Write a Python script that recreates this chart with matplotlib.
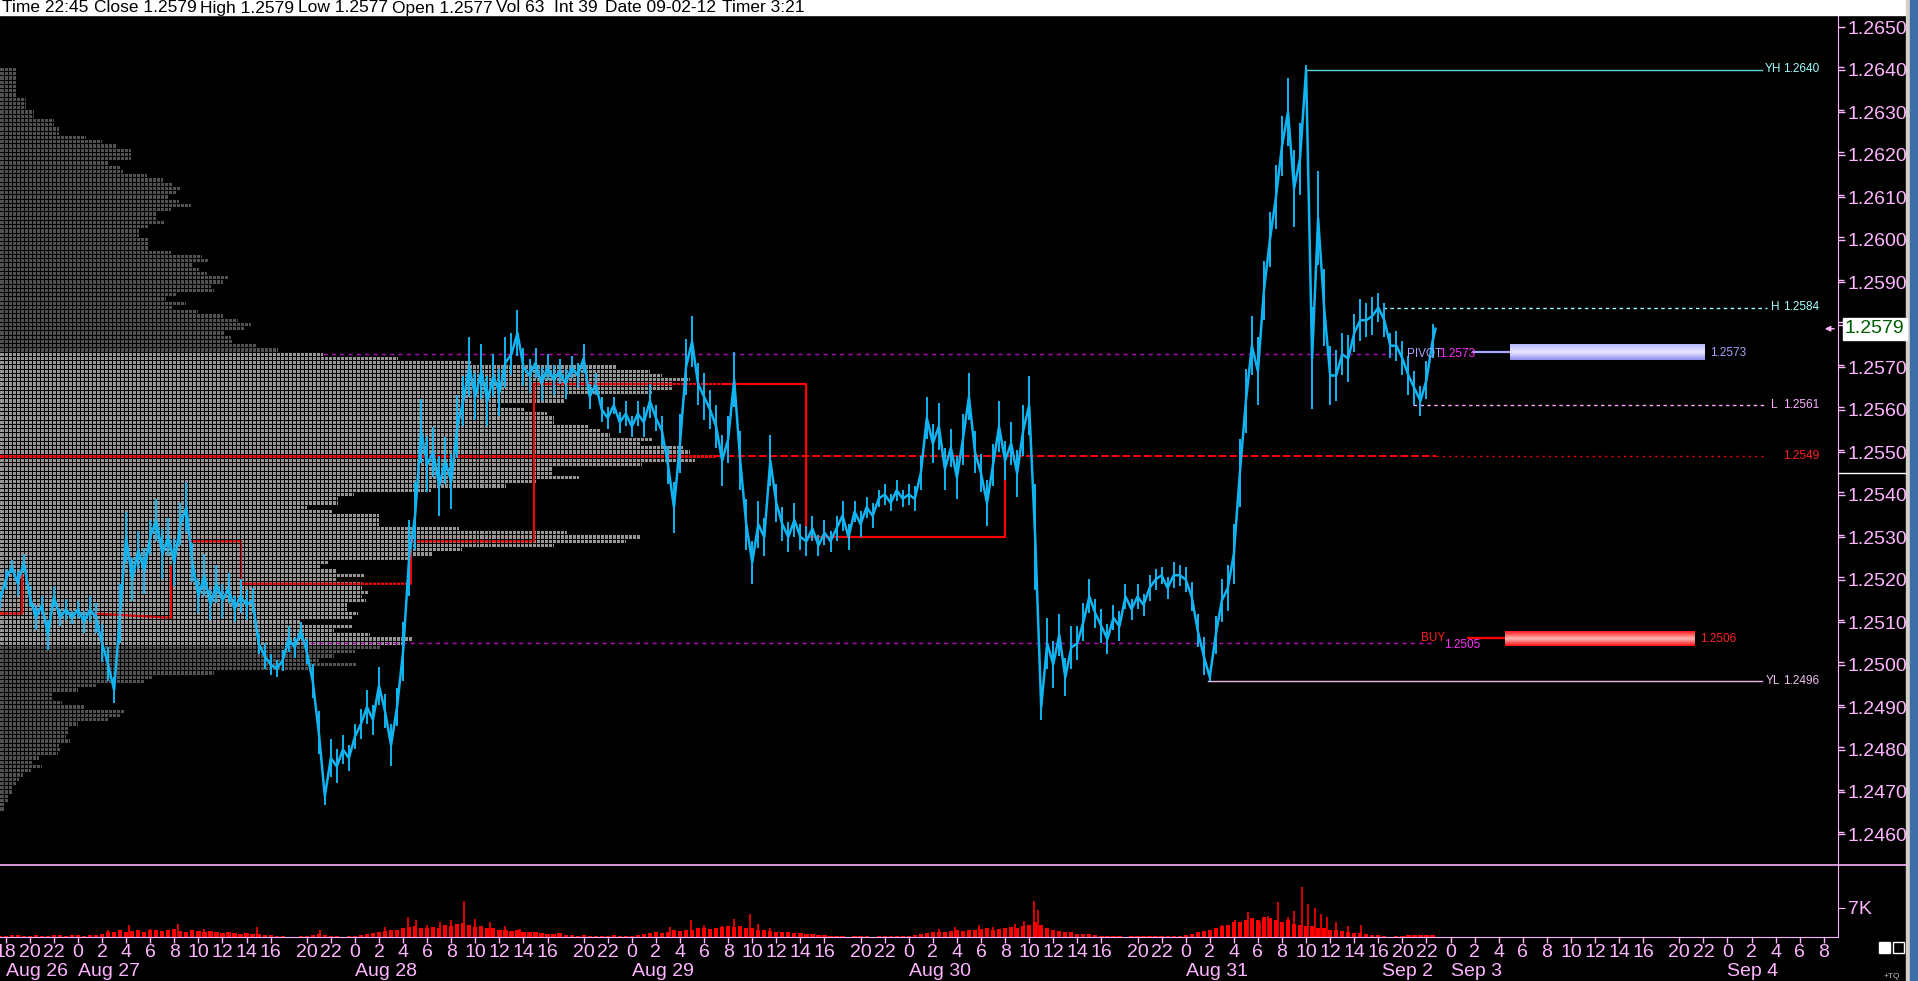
import numpy as np
import matplotlib
matplotlib.use("Agg")
import matplotlib.pyplot as plt
from matplotlib.colors import LinearSegmentedColormap
from matplotlib.patches import Rectangle
from matplotlib.lines import Line2D
from matplotlib.transforms import blended_transform_factory

plt.rcParams['font.family'] = ['Liberation Sans Narrow', 'Liberation Sans', 'DejaVu Sans']

W, H = 1918, 981
PX_H = 12.04     # screen pixels per session hour
X0_PX = 78       # pixel column of Aug 27 00:00

# ---------------- data ----------------
# time axis = session hours from Aug 27 00:00 (17:00-18:00 break skipped, 23 h per day)
t_first, t_step = -6.5, 0.5

# half-hour closes
price = [
    # Aug 26 evening
    1.2515, 1.2520, 1.2523, 1.2519, 1.2524, 1.2516, 1.2511, 1.2514, 1.2507, 1.2516, 1.2511, 1.2513, 1.2511,
    # Aug 27
    1.2513, 1.2510, 1.2513, 1.2511, 1.2505, 1.2500, 1.2494, 1.2512, 1.2530, 1.2520,
    1.2527, 1.2522, 1.2530, 1.2534, 1.2526, 1.2530, 1.2524, 1.2533, 1.2537, 1.2524,
    1.2516, 1.2521, 1.2514, 1.2519, 1.2515, 1.2518, 1.2513, 1.2516, 1.2514, 1.2515,
    1.2505, 1.2502, 1.2500, 1.2499, 1.2501, 1.2506, 1.2504, 1.2508, 1.2503, 1.2496,
    1.2484, 1.2469, 1.2478, 1.2476, 1.2480, 1.2478,
    # Aug 28
    1.2483, 1.2486, 1.2490, 1.2487, 1.2495, 1.2489, 1.2481, 1.2490, 1.2503, 1.2525,
    1.2535, 1.2555, 1.2547, 1.2550, 1.2542, 1.2548, 1.2543, 1.2556, 1.2562, 1.2570,
    1.2563, 1.2569, 1.2562, 1.2568, 1.2564, 1.2571, 1.2573, 1.2578, 1.2570, 1.2568,
    1.2571, 1.2566, 1.2570, 1.2567, 1.2569, 1.2566, 1.2570, 1.2568, 1.2572, 1.2563,
    1.2566, 1.2560, 1.2558, 1.2561, 1.2557, 1.2559,
    # Aug 29
    1.2556, 1.2559, 1.2557, 1.2562, 1.2558, 1.2555, 1.2547, 1.2537, 1.2552, 1.2570,
    1.2576, 1.2566, 1.2563, 1.2560, 1.2556, 1.2548, 1.2553, 1.2567, 1.2548, 1.2533,
    1.2524, 1.2533, 1.2530, 1.2548, 1.2538, 1.2533, 1.2530, 1.2534, 1.2530, 1.2529,
    1.2532, 1.2528, 1.2531, 1.2529, 1.2532, 1.2535, 1.2530, 1.2536, 1.2533, 1.2537,
    1.2535, 1.2539, 1.2540, 1.2538, 1.2541, 1.2539,
    # Aug 30
    1.2540, 1.2539, 1.2545, 1.2558, 1.2552, 1.2556, 1.2546, 1.2551, 1.2544, 1.2553,
    1.2563, 1.2550, 1.2545, 1.2538, 1.2547, 1.2556, 1.2548, 1.2552, 1.2545, 1.2555,
    1.2561, 1.2530, 1.2490, 1.2505, 1.2500, 1.2507, 1.2497, 1.2504, 1.2505, 1.2510,
    1.2516, 1.2512, 1.2509, 1.2506, 1.2511, 1.2509, 1.2516, 1.2513, 1.2516, 1.2514,
    1.2518, 1.2520, 1.2521, 1.2518, 1.2521, 1.2521,
    # Aug 31
    1.2520, 1.2516, 1.2508, 1.2502, 1.2497, 1.2507, 1.2515, 1.2518, 1.2526, 1.2545,
    1.2562, 1.2575, 1.2569, 1.2588, 1.2600, 1.2610, 1.2622, 1.2630, 1.2612, 1.2619,
    1.2640, 1.2572, 1.2605, 1.2584, 1.2568, 1.2568, 1.2573, 1.2572, 1.2578, 1.2581,
    1.2581, 1.2582, 1.2584, 1.2581,
    # Sep 2
    1.2575, 1.2575, 1.2572, 1.2568, 1.2565, 1.2562, 1.2567, 1.2576,
]
last_t, last_close = 112.75, 1.2579

# half-hour high-low range, in pips
swing = [
    4, 5, 3, 6, 4, 5, 6, 4, 7, 5, 4, 5, 3,
    4, 5, 6, 7, 9, 8, 6, 14, 12, 10, 9, 11, 8, 10, 12, 9, 11, 10, 12, 9,
    8, 10, 7, 9, 8, 7, 6, 8, 7, 6, 5, 6, 5, 4, 5, 6, 5, 4, 6, 8, 10, 4, 9, 8, 7, 6,
    6, 7, 8, 7, 9, 8, 10, 9, 14, 18, 16, 15, 13, 12, 14, 11, 13, 15, 12, 14,
    11, 13, 12, 10, 11, 12, 10, 11, 9, 8, 7, 8, 6, 7, 6, 7, 5, 6, 7, 6, 5, 6, 5, 4, 5, 6,
    5, 6, 7, 8, 6, 7, 9, 12, 14, 13, 12, 10, 11, 9, 10, 12, 11, 13, 14, 12,
    10, 11, 9, 12, 9, 8, 7, 8, 6, 7, 6, 5, 6, 5, 6, 7, 6, 5, 6, 5, 6, 4, 5, 4, 5, 4,
    5, 6, 8, 10, 9, 11, 10, 9, 10, 12, 11, 10, 9, 11, 10, 12, 9, 10, 11, 12,
    14, 25, 6, 12, 11, 10, 9, 10, 8, 9, 8, 7, 8, 7, 6, 7, 6, 5, 6, 5, 6, 5, 4, 5, 6, 5,
    6, 7, 8, 9, 2, 9, 10, 11, 14, 16, 15, 14, 16, 14, 13, 15, 14, 16, 18, 17,
    2, 24, 22, 18, 14, 12, 10, 11, 9, 10, 8, 9, 7, 8,
    6, 7, 8, 9, 8, 7, 9, 8,
]

volume = [
    300, 250, 400, 450, 300, 250, 400, 300, 250, 450, 400, 300, 400,
    400, 300, 500, 500, 800, 1100, 1300, 1600, 1100, 1400, 1600, 1300, 1600, 1800, 1400, 1600,
    1900, 1400, 1300, 1600, 1400, 1100, 1400, 1300, 1000, 1100, 1000, 800, 1000, 650, 800, 550,
    500, 300, 150, 120, 120, 150, 300, 550, 800, 500, 250, 150, 120, 250,
    300, 500, 800, 1000, 1100, 1400, 1800, 1600, 2100, 2400, 2700, 2200, 2100, 2400, 2200, 2900,
    2700, 3200, 3400, 2900, 2400, 2700, 2200, 2100, 1800, 1600, 1400, 1600, 1300, 1100, 1300, 1000,
    800, 650, 900, 550, 500, 300, 400, 250, 300, 250, 300, 400, 250, 300,
    300, 500, 650, 1000, 1100, 1000, 1300, 1600, 1400, 1800, 1600, 2100, 2200, 1900, 2100, 2400,
    2700, 2400, 2600, 2200, 2100, 1800, 1600, 1400, 1300, 1100, 1200, 1000, 900, 800, 650, 500,
    400, 300, 250, 150, 120, 150, 250, 150, 120, 150, 250, 300, 250, 150,
    250, 400, 650, 1000, 1100, 1300, 1100, 1400, 1600, 1400, 1800, 1600, 1900, 2100, 1800, 1900,
    2200, 2400, 2100, 2600, 3000, 3700, 2900, 2100, 1800, 1400, 1300, 1100, 800, 700, 650, 500,
    250, 200, 150, 250, 120, 150, 250, 150, 250, 300, 250, 150, 250, 300,
    500, 800, 1100, 1400, 1800, 2100, 2600, 3000, 3700, 3500, 4000, 4500, 4200, 4800, 4600, 4200,
    3700, 4000, 3200, 3000, 2700, 2600, 2200, 2100, 1800, 1600, 1400, 1100, 1000, 900, 700, 550,
    500, 300,
    120, 150, 300, 400, 500, 400, 500, 400,
]
spike_t = [2.5, 4.2, 6.0, 8.3, 10.5, 14.9, 20.1, 25.5, 27.4, 28.1, 29.0, 30.1, 31.0, 32.1, 33.0,
           34.2, 35.5, 36.7, 49.2, 50.9, 52.0, 53.5, 54.5, 55.8, 56.5, 57.5, 71.5, 72.8, 74.8,
           76.0, 77.8, 78.6, 79.4, 79.7, 95.0, 96.1, 97.2, 98.2, 98.8, 99.7, 100.5, 101.0, 101.7,
           102.2, 102.7, 103.2, 103.7, 104.5, 105.5, 106.6]
spike_vol = [1800, 2800, 2000, 3200, 1900, 2400, 1600, 2500, 4800, 4000, 3000, 3600, 4200, 8700,
             4400, 3600, 2600, 2000, 2400, 4000, 3000, 2600, 4400, 5600, 3200, 2200, 2000, 2400,
             2800, 2400, 3200, 3800, 8700, 6400, 3000, 4000, 6000, 3600, 5000, 8400, 4800, 6200,
             12000, 8000, 7000, 5600, 4800, 3600, 2600, 2800]

# volume-at-price profile, one row per pip, listed from the top row (1.2640) down
profile_top = 1.2640
pip = 0.0001
profile_upper = [17, 17, 17, 17, 17, 17, 17, 26, 26, 26, 34, 34, 54, 54, 59, 59, 86, 102, 116,
                 131, 131, 131, 109, 121, 123, 147, 163, 173, 181, 176, 168, 179, 191, 171, 156,
                 156, 164, 149, 139, 139, 148, 148, 148, 171, 202, 208, 192, 199, 207, 228, 223,
                 211, 214, 176, 166, 186, 173, 198, 223, 238, 251, 245, 224, 231, 232, 257, 278]
profile_value = [323, 398, 471, 617, 650, 662, 690, 672, 672, 653, 564, 564, 497, 524, 547, 554,
                 554, 589, 600, 610, 653, 640, 683, 690, 716, 695, 642, 553, 553, 579, 536, 506,
                 431, 354, 338, 338, 307, 333, 379, 379, 379, 459, 567, 641, 626, 554, 462, 432,
                 411, 329, 321, 336, 364, 336, 362, 362, 368, 362, 366, 347, 347, 358, 353, 301,
                 353, 334, 370, 413, 402]
profile_lower = [380, 355, 334, 319, 357, 312, 214, 152, 145, 96, 78, 53, 53, 62, 85, 124, 121,
                 108, 78, 69, 69, 66, 70, 59, 61, 58, 39, 33, 42, 31, 23, 19, 17, 13, 12, 9, 9, 4, 4]
poc = 1.2549

# reference levels
yh, yl = 1.2640, 1.2496
day_high, day_low = 1.2584, 1.2561
pivot = 1.2573
buy_level, buy_order = 1.2505, 1.2506

# red path of the daily value-area migration (time, price), nan = break
va_t = [-6.48, -4.65, -4.65, np.nan, 1.33, 7.72, 7.72, np.nan, 9.47, 13.54, 13.54, 27.66,
        27.66, 37.87, 37.87, 60.47, 60.47, 76.99, 76.99]
va_p = [1.2512, 1.2512, 1.2521, np.nan, 1.2512, 1.2511, 1.2523, np.nan, 1.2529, 1.2529, 1.2519,
        1.2519, 1.2529, 1.2529, 1.2566, 1.2566, 1.2530, 1.2530, 1.2549]

header = [("Time 22:45", 2), ("Close 1.2579", 94), ("High 1.2579", 200), ("Low 1.2577", 298),
          ("Open 1.2577", 392), ("Vol 63", 496), ("Int 39", 554), ("Date 09-02-12", 605),
          ("Timer 3:21", 722)]

date_labels = [("Aug 26", -6), ("Aug 27", 0), ("Aug 28", 23), ("Aug 29", 46), ("Aug 30", 69),
               ("Aug 31", 92), ("Sep 2", 108.3), ("Sep 3", 114), ("Sep 4", 137)]

# ---------------- figure ----------------
PINK = '#ffb4ff'
BLUE = '#10b4f2'


def px_t(px):
    return (px - X0_PX) / PX_H


fig = plt.figure(figsize=(W / 100, H / 100), dpi=100, facecolor='black')
ax = fig.add_axes([0, (H - 865) / H, 1838 / W, (865 - 16) / H])
axv = fig.add_axes([0, (H - 937) / H, 1838 / W, 72 / H])
for a in (ax, axv):
    a.set_facecolor('black')
    for s in a.spines.values():
        s.set_visible(False)
    a.spines['right'].set_visible(True)
    a.spines['right'].set_color(PINK)

x_left, x_right = px_t(0), px_t(1838)

# volume profile
n_up, n_va = len(profile_upper), len(profile_value)
widths = profile_upper + profile_value + profile_lower
rows = [profile_top - i * pip for i in range(len(widths))]
cols = []
for i, p in enumerate(rows):
    if abs(p - poc) < pip / 2:
        cols.append('#ff0000')
    elif n_up <= i < n_up + n_va:
        cols.append('#969696')
    else:
        cols.append('#525252')
ax.barh(rows, [w / PX_H for w in widths], left=x_left, height=pip * 0.78, color=cols,
        linewidth=0, antialiased=False, zorder=1)

# red value area path (under the cell grid, so it looks dotted inside the profile)
ax.plot(va_t, va_p, color='#ff0000', lw=1.6, zorder=2)

# cell grid of the profile
grid_x = [px_t(4 * k + 3.5) for k in range(180)]
ax.vlines(grid_x, rows[-1] - pip, rows[0] + pip, color='black', lw=0.72, antialiased=False,
          zorder=2.5)

# POC, pivot and buy dashed lines
prof_end = max(profile_value) / PX_H + x_left
ax.plot([prof_end, last_t], [poc, poc], color='#ff0000', lw=1.4, ls=(0, (4, 1.5)), zorder=3)
ax.plot([last_t, px_t(1767)], [poc, poc], color='#ff0000', lw=1, ls=(0, (1.5, 3)), zorder=3)
ax.plot([px_t(323), px_t(1393)], [pivot, pivot], color='#c000c0', lw=1, ls=(0, (3, 3)), zorder=3)
ax.plot([px_t(302), px_t(1435)], [buy_level, buy_level], color='#c000c0', lw=1, ls=(0, (3, 3)),
        zorder=3)

# yesterday / today levels
ax.plot([px_t(1306), px_t(1762)], [yh, yh], color='#5fd5d5', lw=1, zorder=3)
ax.plot([px_t(1208), px_t(1762)], [yl, yl], color='#e8b8e8', lw=1, zorder=3)
ax.plot([px_t(1383), px_t(1767)], [day_high, day_high], color='#a0ffff', lw=1,
        ls=(0, (2.5, 2.5)), zorder=3)
ax.plot([px_t(1413), px_t(1767)], [day_low, day_low], color='#ffa8ff', lw=1,
        ls=(0, (2.5, 2.5)), zorder=3)

small = dict(fontsize=8.5, va='center', zorder=7, family=['Liberation Sans', 'DejaVu Sans'])
ax.text(px_t(1765), yh, 'YH', color='#a0ffff', **small)
ax.text(px_t(1783), yh, '1.2640', color='#a0ffff', **small)
ax.text(px_t(1771), day_high, 'H', color='#a0ffff', **small)
ax.text(px_t(1783), day_high, '1.2584', color='#a0ffff', **small)
ax.text(px_t(1771), day_low, 'L', color='#ffb0ff', **small)
ax.text(px_t(1783), day_low, '1.2561', color='#ffb0ff', **small)
ax.text(px_t(1783), poc, '1.2549', color='#ff2020', **small)
ax.text(px_t(1766), yl, 'YL', color='#f0c0f0', **small)
ax.text(px_t(1783), yl, '1.2496', color='#f0c0f0', **small)


# pivot and buy order bars
def grad_bar(x0, x1, y0, y1, colors):
    cmap = LinearSegmentedColormap.from_list('g', colors)
    ax.imshow(np.linspace(0, 1, 40).reshape(-1, 1), extent=[x0, x1, y0, y1], aspect='auto',
              cmap=cmap, origin='lower', zorder=6, interpolation='bilinear')


ax.text(px_t(1407), pivot, 'PIVOT', color='#b0a0ff', **small)
ax.text(px_t(1439), pivot, '1.2573', color='#ff30ff', **small)
ax.plot([px_t(1473), px_t(1510)], [pivot + 0.00006, pivot + 0.00006], color='#a8a8ff', lw=1.6,
        zorder=6)
grad_bar(px_t(1510), px_t(1705), pivot - 0.00014, pivot + 0.00022,
         ['#9090ee', '#e8e8ff', '#b8b8ff'])
ax.text(px_t(1710), pivot + 0.00002, '1.2573', color='#a8a0ff', **small)

ax.text(px_t(1421), buy_order + 0.00003, 'BUY', color='#ff2020', **small)
ax.text(px_t(1444), buy_level - 0.00004, '1.2505', color='#ff30ff', **small)
ax.plot([px_t(1468), px_t(1505)], [buy_order + 0.00002, buy_order + 0.00002], color='#ff0000',
        lw=1.6, zorder=6)
grad_bar(px_t(1505), px_t(1695), buy_order - 0.00017, buy_order + 0.00018,
         ['#ff1010', '#ffb8b8', '#ff1818'])
ax.text(px_t(1700), buy_order, '1.2506', color='#ff2020', **small)

# price: half-hour ranges plus the close line
t_price = t_first + t_step * np.arange(len(price))
half = np.array(swing) * pip / 2
ax.vlines(t_price, np.array(price) - half, np.array(price) + half, color=BLUE, lw=1.4, zorder=5)
ax.plot(list(t_price) + [last_t], price + [last_close], color=BLUE, lw=1.8, zorder=5)

# last price marker arrow
ax.annotate('', xy=(px_t(1822), last_close), xytext=(px_t(1837), last_close),
            arrowprops=dict(arrowstyle='-|>', color=PINK, lw=1, mutation_scale=8),
            annotation_clip=False, zorder=7)

ax.set_xlim(x_left, x_right)
ax.set_ylim(1.2650 - (865 - 27) / 42500, 1.2650 + 11 / 42500)
ax.yaxis.tick_right()
ax.set_yticks(np.arange(1.2460, 1.26505, 0.0010))
ax.set_yticks(np.arange(1.24605, 1.2650, 0.0010), minor=True)
ax.set_yticklabels([f'{v:.4f}' for v in np.arange(1.2460, 1.26505, 0.0010)])
ax.tick_params(axis='y', which='both', colors=PINK, labelsize=14, width=1, pad=2)
ax.tick_params(axis='y', which='major', length=5)
ax.tick_params(axis='y', which='minor', length=4)
ax.tick_params(axis='x', which='both', bottom=False, labelbottom=False)
for lab in ax.get_yticklabels():
    lab.set_family(['Liberation Sans', 'DejaVu Sans'])

# volume panel
t_grid = t_first + t_step * np.arange(len(volume))
axv.bar(t_grid, volume, width=0.35, color='#ff0000', linewidth=0, zorder=2)
axv.vlines(spike_t, 0, spike_vol, color='#ff0000', lw=1.2, zorder=2)
axv.set_xlim(x_left, x_right)
axv.set_ylim(0, 72 * 241)
axv.spines['bottom'].set_visible(True)
axv.spines['bottom'].set_color(PINK)
axv.yaxis.tick_right()
axv.set_yticks([7000])
axv.set_yticklabels(['7K'])
axv.tick_params(axis='y', colors=PINK, labelsize=14, length=5, pad=2)
for lab in axv.get_yticklabels():
    lab.set_family(['Liberation Sans', 'DejaVu Sans'])

hour_ticks = [(-6, '18'), (-4, '20'), (-2, '22')]
for d in (0, 23, 46, 69):
    hour_ticks += [(d + h, str(h)) for h in range(0, 17, 2)] + [(d + 19, '20'), (d + 21, '22')]
hour_ticks += [(92 + h, str(h)) for h in range(0, 17, 2)] + [(110, '20'), (112, '22')]
hour_ticks += [(114 + h, str(h)) for h in range(0, 17, 2)] + [(133, '20'), (135, '22')]
hour_ticks += [(137 + h, str(h)) for h in range(0, 9, 2)]
axv.set_xticks([h[0] for h in hour_ticks])
axv.set_xticklabels([h[1] for h in hour_ticks])
axv.tick_params(axis='x', colors=PINK, labelsize=14, length=4, width=1, pad=1)

tr = blended_transform_factory(axv.transData, fig.transFigure)
for name, t in date_labels:
    fig.text(t, 1 - 972 / H, name, transform=tr, color=PINK, fontsize=14, ha='left',
             va='center')

# frame pieces: header, separators, right border
fig.patches.append(Rectangle((0, 1 - 15 / H), 1906 / W, 15 / H, transform=fig.transFigure,
                             color='white', zorder=0))
for txt, x in header:
    fig.text(x / W, 1 - 8 / H, txt, color='black', fontsize=12.5, ha='left', va='center')
fig.add_artist(Line2D([0, 1906 / W], [1 - 865 / H] * 2, color=PINK, lw=1.2))
fig.add_artist(Line2D([1838 / W, 1906 / W], [1 - 473 / H] * 2, color='white', lw=1))
fig.patches.append(Rectangle((1906 / W, 0), 4 / W, 1, transform=fig.transFigure,
                             color='#d4d0c8'))
fig.patches.append(Rectangle((1910 / W, 0), 8 / W, 1, transform=fig.transFigure,
                             color='#3d6da6'))

# last price box
trp = blended_transform_factory(fig.transFigure, ax.transData)
fig.text(1845 / W, last_close, '1.2579', transform=trp, color='#005c00', fontsize=14,
         ha='left', va='center', family=['Liberation Sans', 'DejaVu Sans'],
         bbox=dict(boxstyle='square,pad=0.12', fc='white', ec='white'))

# small toolbar squares and tag at the bottom right
fig.patches.append(Rectangle((1879 / W, 1 - 953 / H), 11 / W, 11 / H, transform=fig.transFigure,
                             fc='white', ec='white'))
fig.patches.append(Rectangle((1893 / W, 1 - 953 / H), 11 / W, 11 / H, transform=fig.transFigure,
                             fc='black', ec='white', lw=1))
fig.text(1884 / W, 1 - 976 / H, '+TQ', color='#c0c0c0', fontsize=6, ha='left', va='center')

fig.savefig('out.png', dpi=100, facecolor='black')
